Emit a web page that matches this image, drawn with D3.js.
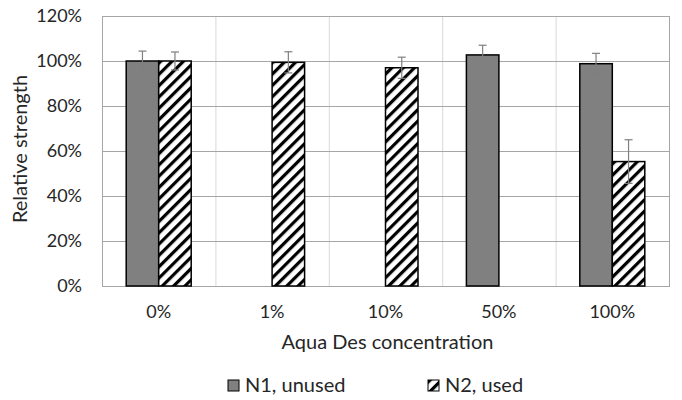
<!DOCTYPE html>
<html>
<head>
<meta charset="utf-8">
<script src="https://cdn.jsdelivr.net/npm/d3@7"></script>
<style>
  body { margin: 0; background: #fff; }
  text { font-family: Lato, "Open Sans", sans-serif; fill: #262626; }
</style>
</head>
<body>
<svg width="682" height="400"></svg>
<script>
const categories = ["0%", "1%", "10%", "50%", "100%"];
const seriesNames = ["N1, unused", "N2, used"];
// null = no bar in that slot
const n1Values = [100, null, null, 102.7, 98.8];
const n1Errors = [4.4, null, null, 4.3, 4.6];
const n2Values = [100, 99.4, 97, null, 55.3];
const n2Errors = [4.0, 4.7, 4.7, null, 9.7];
const yTicks = [0, 20, 40, 60, 80, 100, 120];

const margin = { top: 16, right: 13, bottom: 114, left: 102 };
const svg = d3.select("svg");
const width = +svg.attr("width") - margin.left - margin.right;
const height = +svg.attr("height") - margin.top - margin.bottom;

const defs = svg.append("defs");
const pat = defs.append("pattern")
    .attr("id", "hatch")
    .attr("patternUnits", "userSpaceOnUse")
    .attr("width", 8).attr("height", 8)
    .attr("patternTransform", "rotate(45)");
pat.append("rect").attr("width", 8).attr("height", 8).attr("fill", "#fff");
pat.append("rect").attr("x", 0).attr("width", 3.2).attr("height", 8).attr("fill", "#000");

const g = svg.append("g")
    .attr("transform", "translate(" + margin.left + "," + margin.top + ")");

const x0 = d3.scaleBand().domain(categories).range([0, width]).paddingInner(0).paddingOuter(0);
const x1 = d3.scaleBand().domain(seriesNames).range([0, 65]);
const groupOffset = (x0.bandwidth() - 65) / 2;
const y = d3.scaleLinear().domain([0, 120]).range([height, 0]);

// vertical gridlines at category boundaries
g.selectAll(".vgrid")
    .data(categories.slice(1))
    .enter().append("line")
    .attr("x1", d => x0(d) + 0.5).attr("x2", d => x0(d) + 0.5)
    .attr("y1", 0).attr("y2", height)
    .attr("stroke", "#d9d9d9").attr("stroke-width", 1);

// horizontal gridlines
g.selectAll(".hgrid")
    .data(yTicks)
    .enter().append("line")
    .attr("x1", 0).attr("x2", width)
    .attr("y1", d => Math.round(y(d)) + 0.5).attr("y2", d => Math.round(y(d)) + 0.5)
    .attr("stroke", "#a6a6a6").attr("stroke-width", 1);

// plot border
g.append("rect")
    .attr("x", 0.5).attr("y", 0.5)
    .attr("width", width).attr("height", height)
    .attr("fill", "none").attr("stroke", "#a6a6a6");

const rows = [];
categories.forEach((c, i) => {
    if (n1Values[i] != null) rows.push({ cat: c, s: seriesNames[0], v: n1Values[i], e: n1Errors[i] });
    if (n2Values[i] != null) rows.push({ cat: c, s: seriesNames[1], v: n2Values[i], e: n2Errors[i] });
});

g.selectAll(".bar")
    .data(rows)
    .enter().append("rect")
    .attr("class", "bar")
    .attr("x", d => x0(d.cat) + groupOffset + x1(d.s))
    .attr("y", d => y(d.v))
    .attr("width", x1.bandwidth())
    .attr("height", d => height - y(d.v))
    .attr("fill", d => d.s === seriesNames[0] ? "#808080" : "url(#hatch)")
    .attr("stroke", "#000")
    .attr("stroke-width", 1.5);

// error bars
const err = g.selectAll(".err")
    .data(rows)
    .enter().append("g")
    .attr("transform", d => "translate(" + (x0(d.cat) + groupOffset + x1(d.s) + x1.bandwidth() / 2) + ",0)");
err.append("line")
    .attr("y1", d => y(d.v + d.e)).attr("y2", d => y(d.v - d.e))
    .attr("stroke", "#7f7f7f").attr("stroke-width", 1.2);
err.append("line")
    .attr("x1", -4).attr("x2", 4)
    .attr("y1", d => y(d.v + d.e)).attr("y2", d => y(d.v + d.e))
    .attr("stroke", "#7f7f7f").attr("stroke-width", 1.2);
err.append("line")
    .attr("x1", -4).attr("x2", 4)
    .attr("y1", d => y(d.v - d.e)).attr("y2", d => y(d.v - d.e))
    .attr("stroke", "#7f7f7f").attr("stroke-width", 1.2);

// y axis
const yAxis = g.append("g")
    .call(d3.axisLeft(y).tickValues(yTicks).tickFormat(d => d + "%").tickSize(0).tickPadding(20));
yAxis.select(".domain").remove();
yAxis.selectAll("text").style("font-size", "18px").attr("fill", "#262626");

// x axis
const xAxis = g.append("g")
    .attr("transform", "translate(0," + height + ")")
    .call(d3.axisBottom(x0).tickSize(0).tickPadding(19));
xAxis.select(".domain").remove();
xAxis.selectAll("text").style("font-size", "18px").attr("fill", "#262626");

// axis titles
svg.append("text")
    .attr("text-anchor", "middle")
    .attr("transform", "translate(27,149)rotate(-90)")
    .style("font-size", "20px")
    .text("Relative strength");

svg.append("text")
    .attr("text-anchor", "middle")
    .attr("x", margin.left + width / 2 + 2)
    .attr("y", 349)
    .style("font-size", "20px")
    .text("Aqua Des concentration");

// legend
const legendX = [228, 428];
const legend = svg.selectAll(".legend")
    .data(seriesNames)
    .enter().append("g")
    .attr("transform", (d, i) => "translate(" + legendX[i] + ",380)");
legend.append("rect")
    .attr("width", 11).attr("height", 11)
    .attr("fill", (d, i) => i === 0 ? "#808080" : "url(#hatch)")
    .attr("stroke", "#000").attr("stroke-width", 1);
legend.append("text")
    .attr("x", 17).attr("y", 12)
    .style("font-size", "20px")
    .text(d => d);
</script>
</body>
</html>
